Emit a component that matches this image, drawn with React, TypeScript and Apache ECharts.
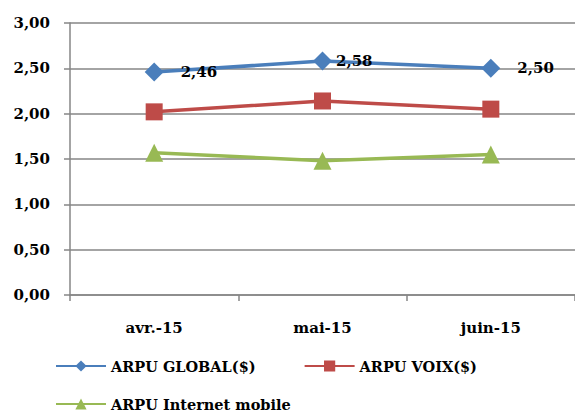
import React, { useEffect, useRef } from "react";
import * as echarts from "echarts";

const categories = ["avr.-15", "mai-15", "juin-15"];
const arpuGlobal = [2.46, 2.58, 2.5];
const arpuVoix = [2.02, 2.14, 2.05];
const arpuInternet = [1.57, 1.48, 1.55];
const seriesNames = ["ARPU GLOBAL($)", "ARPU VOIX($)", "ARPU Internet mobile"];

const FONT = "DejaVu Serif";

export default function App() {
  const ref = useRef<HTMLDivElement>(null);
  useEffect(() => {
    const chart = echarts.init(ref.current!, null, { renderer: "svg" });
    const textStyle = { fontFamily: FONT, fontWeight: "bold" as const, fontSize: 15, color: "#000" };
    const legendText = { ...textStyle, fontSize: 14.5, lineHeight: 16 };
    chart.setOption({
      animation: false,
      grid: { left: 70, top: 23, right: 0, bottom: 116 },
      xAxis: {
        type: "category",
        data: categories,
        boundaryGap: true,
        axisLine: { lineStyle: { color: "#868686", width: 1.5 } },
        axisTick: { show: true, length: 6, lineStyle: { color: "#868686", width: 1.5 } },
        axisLabel: { ...textStyle, margin: 25 },
      },
      yAxis: {
        type: "value",
        min: 0,
        max: 3,
        interval: 0.5,
        axisLine: { show: true, lineStyle: { color: "#868686", width: 1.5 } },
        axisTick: { show: true, length: 6, lineStyle: { color: "#868686", width: 1.5 } },
        splitLine: { lineStyle: { color: "#868686", width: 1.5 } },
        axisLabel: {
          ...textStyle,
          margin: 20,
          formatter: (v: number) => v.toFixed(2).replace(".", ","),
        },
      },
      legend: [
        {
          data: [seriesNames[0], seriesNames[1]],
          left: 55,
          top: 358,
          padding: 0,
          itemWidth: 50,
          itemHeight: 14,
          itemGap: 48,
          textStyle: legendText,
        },
        {
          data: [seriesNames[2]],
          left: 55,
          top: 396,
          padding: 0,
          itemWidth: 50,
          itemHeight: 14,
          textStyle: legendText,
        },
      ],
      series: [
        {
          name: seriesNames[0],
          type: "line",
          data: arpuGlobal.map((v, i) => ({
            value: v,
            label: { distance: i === 1 ? 4 : 17 },
          })),
          symbol: "diamond",
          symbolSize: 19,
          lineStyle: { color: "#4a7ebb", width: 3.5 },
          itemStyle: { color: "#4a7ebb" },
          label: {
            show: true,
            position: "right",
            ...textStyle,
            formatter: (p: any) => Number(p.value).toFixed(2).replace(".", ","),
          },
          z: 3,
        },
        {
          name: seriesNames[1],
          type: "line",
          data: arpuVoix,
          symbol: "rect",
          symbolSize: 17,
          lineStyle: { color: "#be4b48", width: 3.5 },
          itemStyle: { color: "#be4b48" },
        },
        {
          name: seriesNames[2],
          type: "line",
          data: arpuInternet,
          symbol: "triangle",
          symbolSize: 18,
          lineStyle: { color: "#98b954", width: 3.5 },
          itemStyle: { color: "#98b954" },
        },
      ],
    });
    return () => chart.dispose();
  }, []);
  return (
    <div
      ref={ref}
      style={{ position: "fixed", left: 0, top: 0, width: 575, height: 411, background: "#fff" }}
    />
  );
}
